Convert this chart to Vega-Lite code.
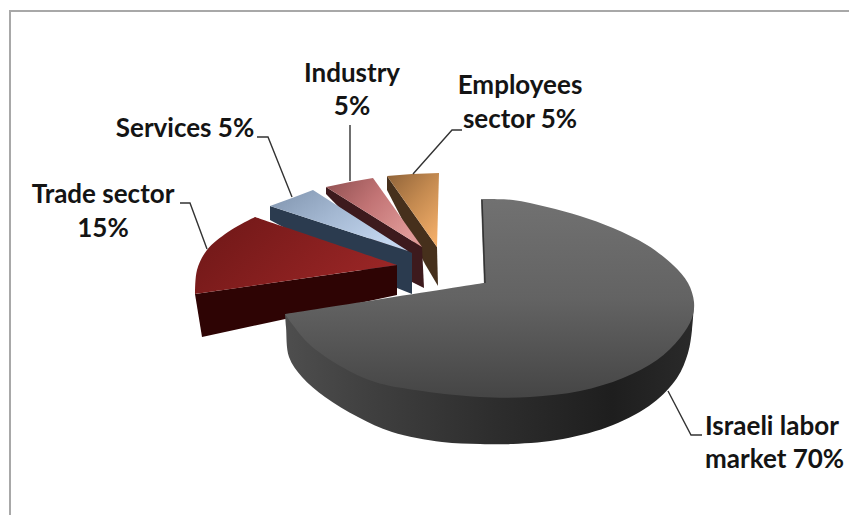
{
  "$schema": "https://vega.github.io/schema/vega-lite/v6.json",
  "autosize": {"type": "none"},
  "width": 849,
  "height": 515,
  "padding": 0,
  "background": "#ffffff",
  "view": {"stroke": null},
  "datasets": {
    "outline": [
      {"part":"employees_side","i":0,"x":387,"y":176},{"part":"employees_side","i":1,"x":437,"y":247},{"part":"employees_side","i":2,"x":438,"y":286},{"part":"employees_side","i":3,"x":425,"y":264},{"part":"employees_side","i":4,"x":387,"y":190},
      {"part":"employees_top","i":0,"x":387,"y":176},{"part":"employees_top","i":1,"x":412,"y":174},{"part":"employees_top","i":2,"x":439,"y":173},{"part":"employees_top","i":3,"x":437,"y":247},
      {"part":"industry_side","i":0,"x":326,"y":187},{"part":"industry_side","i":1,"x":422,"y":247},{"part":"industry_side","i":2,"x":424,"y":288},{"part":"industry_side","i":3,"x":412,"y":282},{"part":"industry_side","i":4,"x":326,"y":194},
      {"part":"industry_top","i":0,"x":326,"y":187},{"part":"industry_top","i":1,"x":350,"y":182},{"part":"industry_top","i":2,"x":373,"y":178},{"part":"industry_top","i":3,"x":422,"y":247},
      {"part":"services_side","i":0,"x":270,"y":206},{"part":"services_side","i":1,"x":408,"y":251},{"part":"services_side","i":2,"x":412,"y":253},{"part":"services_side","i":3,"x":412,"y":294},{"part":"services_side","i":4,"x":397,"y":288},{"part":"services_side","i":5,"x":270,"y":220},
      {"part":"services_top","i":0,"x":270,"y":206},{"part":"services_top","i":1,"x":292,"y":198},{"part":"services_top","i":2,"x":313,"y":190},{"part":"services_top","i":3,"x":408,"y":251},
      {"part":"trade_side","i":0,"x":195,"y":294},{"part":"trade_side","i":1,"x":397,"y":265},{"part":"trade_side","i":2,"x":397,"y":295},{"part":"trade_side","i":3,"x":202,"y":337},
      {"part":"trade_top","i":0,"x":397,"y":265},{"part":"trade_top","i":1,"x":397,"y":265},{"part":"trade_top","i":2,"x":195,"y":294},{"part":"trade_top","i":3,"x":195,"y":294},{"part":"trade_top","i":4,"x":197,"y":270},{"part":"trade_top","i":5,"x":207,"y":250},{"part":"trade_top","i":6,"x":228,"y":232},{"part":"trade_top","i":7,"x":255,"y":217},{"part":"trade_top","i":8,"x":255,"y":217},{"part":"trade_top","i":9,"x":397,"y":265},
      {"part":"labor_side","i":0,"x":694,"y":303},{"part":"labor_side","i":1,"x":692,"y":330},{"part":"labor_side","i":2,"x":688,"y":353},{"part":"labor_side","i":3,"x":677,"y":378},{"part":"labor_side","i":4,"x":653,"y":403},{"part":"labor_side","i":5,"x":613,"y":425},{"part":"labor_side","i":6,"x":563,"y":439},{"part":"labor_side","i":7,"x":513,"y":444},{"part":"labor_side","i":8,"x":480,"y":444},{"part":"labor_side","i":9,"x":442,"y":442},{"part":"labor_side","i":10,"x":392,"y":432},{"part":"labor_side","i":11,"x":358,"y":417},{"part":"labor_side","i":12,"x":325,"y":397},{"part":"labor_side","i":13,"x":302,"y":377},{"part":"labor_side","i":14,"x":289,"y":357},{"part":"labor_side","i":15,"x":286,"y":327},{"part":"labor_side","i":16,"x":285,"y":314},{"part":"labor_side","i":17,"x":285,"y":314},
      {"part":"labor_top","i":0,"x":481,"y":199},{"part":"labor_top","i":1,"x":481,"y":199},{"part":"labor_top","i":2,"x":513,"y":200},{"part":"labor_top","i":3,"x":547,"y":207},{"part":"labor_top","i":4,"x":580,"y":216},{"part":"labor_top","i":5,"x":613,"y":228},{"part":"labor_top","i":6,"x":647,"y":245},{"part":"labor_top","i":7,"x":673,"y":265},{"part":"labor_top","i":8,"x":688,"y":283},{"part":"labor_top","i":9,"x":694,"y":302},{"part":"labor_top","i":10,"x":692,"y":318},{"part":"labor_top","i":11,"x":680,"y":338},{"part":"labor_top","i":12,"x":657,"y":360},{"part":"labor_top","i":13,"x":623,"y":378},{"part":"labor_top","i":14,"x":580,"y":391},{"part":"labor_top","i":15,"x":530,"y":397},{"part":"labor_top","i":16,"x":480,"y":397},{"part":"labor_top","i":17,"x":415,"y":390},{"part":"labor_top","i":18,"x":375,"y":382},{"part":"labor_top","i":19,"x":342,"y":367},{"part":"labor_top","i":20,"x":308,"y":343},{"part":"labor_top","i":21,"x":285,"y":314},{"part":"labor_top","i":22,"x":285,"y":314},{"part":"labor_top","i":23,"x":484,"y":283},{"part":"labor_top","i":24,"x":484,"y":283},{"part":"labor_top","i":25,"x":481,"y":199}
    ],
    "leaders": [
      {"slice":"labor","i":0,"x":668,"y":391},{"slice":"labor","i":1,"x":691,"y":435},{"slice":"labor","i":2,"x":702,"y":435},
      {"slice":"trade","i":0,"x":180,"y":203},{"slice":"trade","i":1,"x":190,"y":203},{"slice":"trade","i":2,"x":207,"y":249},
      {"slice":"services","i":0,"x":257,"y":137},{"slice":"services","i":1,"x":268,"y":137},{"slice":"services","i":2,"x":292,"y":197},
      {"slice":"industry","i":0,"x":350,"y":125},{"slice":"industry","i":1,"x":350,"y":181},
      {"slice":"employees","i":0,"x":462,"y":130},{"slice":"employees","i":1,"x":452,"y":130},{"slice":"employees","i":2,"x":413,"y":174},
      {"slice":"wall","i":0,"x":482,"y":200},{"slice":"wall","i":1,"x":485,"y":283}
    ],
    "frame": [
      {"i":0,"x":10,"y":515},{"i":1,"x":10,"y":11},{"i":2,"x":849,"y":11}
    ],
    "captions": [
      {"text":"Industry","x":352,"y":82},{"text":"5%","x":352,"y":115},
      {"text":"Employees","x":520,"y":94},{"text":"sector 5%","x":520,"y":128},
      {"text":"Services 5%","x":185,"y":137},
      {"text":"Trade sector","x":103,"y":203},{"text":"15%","x":103,"y":237}
    ],
    "marketCaptions": [
      {"text":"Israeli labor","x":705,"y":435},{"text":"market 70%","x":705,"y":468}
    ]
  },
  "encoding": {
    "x": {"field":"x","type":"quantitative","scale":{"domain":[0,849],"nice":false,"zero":false},"axis":null},
    "y": {"field":"y","type":"quantitative","scale":{"domain":[515,0],"nice":false,"zero":false},"axis":null}
  },
  "layer": [
    {"data":{"name":"frame"},"mark":{"type":"line","stroke":"#a8a8a8","strokeWidth":2},"encoding":{"order":{"field":"i"}}},

    {"data":{"name":"outline"},"transform":[{"filter":"datum.part=='employees_side'"}],"mark":{"type":"line","filled":true,"fill":"#46301c","stroke":null},"encoding":{"order":{"field":"i"}}},
    {"data":{"name":"outline"},"transform":[{"filter":"datum.part=='employees_top'"}],"mark":{"type":"line","filled":true,"stroke":null,"fill":{"gradient":"linear","x1":0,"y1":0,"x2":0.8,"y2":1,"stops":[{"offset":0,"color":"#8e6238"},{"offset":0.5,"color":"#c48a50"},{"offset":1,"color":"#f2ad68"}]}},"encoding":{"order":{"field":"i"}}},

    {"data":{"name":"outline"},"transform":[{"filter":"datum.part=='industry_side'"}],"mark":{"type":"line","filled":true,"fill":"#3d1a1d","stroke":null},"encoding":{"order":{"field":"i"}}},
    {"data":{"name":"outline"},"transform":[{"filter":"datum.part=='industry_top'"}],"mark":{"type":"line","filled":true,"stroke":null,"fill":{"gradient":"linear","x1":0,"y1":0,"x2":1,"y2":0.6,"stops":[{"offset":0,"color":"#8f4f50"},{"offset":0.5,"color":"#c27475"},{"offset":1,"color":"#e09a98"}]}},"encoding":{"order":{"field":"i"}}},

    {"data":{"name":"outline"},"transform":[{"filter":"datum.part=='services_side'"}],"mark":{"type":"line","filled":true,"fill":"#2b3b4f","stroke":null},"encoding":{"order":{"field":"i"}}},
    {"data":{"name":"outline"},"transform":[{"filter":"datum.part=='services_top'"}],"mark":{"type":"line","filled":true,"stroke":null,"fill":{"gradient":"linear","x1":0,"y1":0,"x2":1,"y2":0.6,"stops":[{"offset":0,"color":"#7f93ad"},{"offset":0.5,"color":"#a3b7d1"},{"offset":1,"color":"#c3d6ef"}]}},"encoding":{"order":{"field":"i"}}},

    {"data":{"name":"outline"},"transform":[{"filter":"datum.part=='trade_side'"}],"mark":{"type":"line","filled":true,"fill":"#2e0404","stroke":null},"encoding":{"order":{"field":"i"}}},
    {"data":{"name":"outline"},"transform":[{"filter":"datum.part=='trade_top'"}],"mark":{"type":"line","filled":true,"stroke":null,"interpolate":"catmull-rom","fill":{"gradient":"linear","x1":0,"y1":0.2,"x2":1,"y2":0.6,"stops":[{"offset":0,"color":"#701818"},{"offset":0.6,"color":"#8a2020"},{"offset":1,"color":"#9a2626"}]}},"encoding":{"order":{"field":"i"}}},

    {"data":{"name":"outline"},"transform":[{"filter":"datum.part=='labor_side'"}],"mark":{"type":"line","filled":true,"stroke":null,"interpolate":"catmull-rom","fill":{"gradient":"linear","x1":0,"y1":0,"x2":1,"y2":0,"stops":[{"offset":0,"color":"#4e4e4e"},{"offset":0.2,"color":"#404040"},{"offset":0.5,"color":"#2e2e2e"},{"offset":0.8,"color":"#1e1e1e"},{"offset":1,"color":"#2a2a2a"}]}},"encoding":{"order":{"field":"i"}}},
    {"data":{"name":"outline"},"transform":[{"filter":"datum.part=='labor_top'"}],"mark":{"type":"line","filled":true,"stroke":null,"interpolate":"catmull-rom","fill":{"gradient":"linear","x1":0,"y1":0,"x2":0,"y2":1,"stops":[{"offset":0,"color":"#717171"},{"offset":0.5,"color":"#636363"},{"offset":1,"color":"#454545"}]}},"encoding":{"order":{"field":"i"}}},

    {"data":{"name":"leaders"},"mark":{"type":"line","stroke":"#333333","strokeWidth":1.4},"encoding":{"detail":{"field":"slice"},"order":{"field":"i"}}},

    {"data":{"name":"captions"},"mark":{"type":"text","font":"Lato","fontWeight":"bold","fontSize":26,"align":"center","baseline":"alphabetic","fill":"#141414"},"encoding":{"text":{"field":"text"}}},
    {"data":{"name":"marketCaptions"},"mark":{"type":"text","font":"Lato","fontWeight":"bold","fontSize":26,"align":"left","baseline":"alphabetic","fill":"#141414"},"encoding":{"text":{"field":"text"}}}
  ]
}
